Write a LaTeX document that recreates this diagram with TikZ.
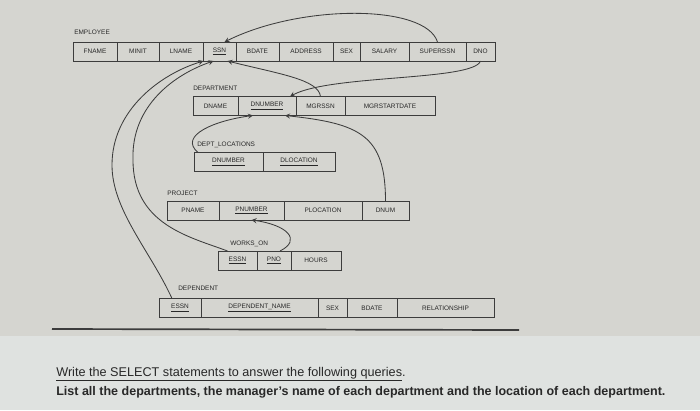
\documentclass[tikz,border=0pt]{standalone}
\usepackage{fontspec}
\setmainfont{Liberation Sans}
\usepackage{tikz}
\usetikzlibrary{arrows,positioning}
\definecolor{paper}{RGB}{213,213,208}
\definecolor{screen}{RGB}{223,226,224}
\definecolor{ink}{RGB}{60,60,60}
\definecolor{txt}{RGB}{40,40,40}

\begin{document}
\begin{tikzpicture}[
    x=0.025cm, y=-0.025cm,
    every node/.style={text=txt},
    cell/.style={draw=ink, line width=0.5pt, outer sep=0pt, inner sep=0pt,
                 minimum height=0.475cm, font=\fontsize{4.6}{5}\selectfont},
    wd/.style={minimum width=#1*0.025cm},
    tname/.style={anchor=base west, inner sep=0pt, font=\fontsize{4.6}{5}\selectfont},
    qtext/.style={anchor=base west, inner sep=0pt, font=\fontsize{9}{11}\selectfont},
    fk/.style={->, >=stealth, line width=0.6pt, draw=ink},
]
    % page
    \fill[paper] (0,0) rectangle (700,410);
    \fill[screen] (0,336) rectangle (700,410);
    \useasboundingbox (0,0) rectangle (700,410);

    % EMPLOYEE
    \node[tname] (emp) at (74,34) {EMPLOYEE};
    \node[cell, wd=44, anchor=west] (fname) at (73,51.5) {FNAME};
    \node[cell, wd=42, right=0pt of fname]  (minit)  {MINIT};
    \node[cell, wd=44, right=0pt of minit]  (lname)  {LNAME};
    \node[cell, wd=33, right=0pt of lname]  (ssn)    {\underline{SSN}};
    \node[cell, wd=43, right=0pt of ssn]    (bdate)  {BDATE};
    \node[cell, wd=54, right=0pt of bdate]  (addr)   {ADDRESS};
    \node[cell, wd=27, right=0pt of addr]   (sex)    {SEX};
    \node[cell, wd=49, right=0pt of sex]    (salary) {SALARY};
    \node[cell, wd=57, right=0pt of salary] (supssn) {SUPERSSN};
    \node[cell, wd=29, right=0pt of supssn] (dno)    {DNO};

    % DEPARTMENT
    \node[tname] (dept) at (193,90.5) {DEPARTMENT};
    \node[cell, wd=45, anchor=west] (dname) at (193,106) {DNAME};
    \node[cell, wd=58, right=0pt of dname]   (dnumber) {\underline{DNUMBER}};
    \node[cell, wd=49, right=0pt of dnumber] (mgrssn)  {MGRSSN};
    \node[cell, wd=90, right=0pt of mgrssn]  (mgrdate) {MGRSTARTDATE};

    % DEPT_LOCATIONS
    \node[tname] (dloc) at (197,146.5) {DEPT\_LOCATIONS};
    \node[cell, wd=69, anchor=west] (dlnum) at (194,162) {\underline{DNUMBER}};
    \node[cell, wd=72, right=0pt of dlnum] (dlloc) {\underline{DLOCATION}};

    % PROJECT
    \node[tname] (proj) at (167,195.5) {PROJECT};
    \node[cell, wd=52, anchor=west] (pname) at (167,210.5) {PNAME};
    \node[cell, wd=65, right=0pt of pname]   (pnumber) {\underline{PNUMBER}};
    \node[cell, wd=78, right=0pt of pnumber] (ploc)    {PLOCATION};
    \node[cell, wd=47, right=0pt of ploc]    (dnum)    {DNUM};

    % WORKS_ON
    \node[tname] (works) at (230,245.5) {WORKS\_ON};
    \node[cell, wd=39, anchor=west] (wessn) at (218,260.5) {\underline{ESSN}};
    \node[cell, wd=34, right=0pt of wessn] (pno)   {\underline{PNO}};
    \node[cell, wd=50, right=0pt of pno]   (hours) {HOURS};

    % DEPENDENT
    \node[tname] (dep) at (178,290.5) {DEPENDENT};
    \node[cell, wd=42, anchor=west] (dessn) at (159,308) {\underline{ESSN}};
    \node[cell, wd=117, right=0pt of dessn] (depname) {\underline{DEPENDENT\_NAME}};
    \node[cell, wd=29, right=0pt of depname] (dsex)   {SEX};
    \node[cell, wd=50, right=0pt of dsex]    (dbdate) {BDATE};
    \node[cell, wd=97, right=0pt of dbdate]  (rel)    {RELATIONSHIP};

    % bends of the two long curves on the left
    \coordinate (wbend) at (133,160);
    \coordinate (dbend) at (112,165);

    % foreign keys
    \draw[fk] (supssn.north) .. controls +(-12,-38) and +(76,-38) .. ([xshift=0.125cm]ssn.north);
    \draw[fk] (dno.south) .. controls +(-7,20) and +(40,-22) .. ([xshift=-0.15cm]dnumber.north east);
    \draw[fk] (mgrssn.north) .. controls +(-2,-17) and +(52,13) .. ([xshift=0.2cm]ssn.south);
    \draw[fk] ([xshift=0.1cm]dlnum.north west) .. controls +(-20,-17) and +(-38,5) .. ([xshift=-0.35cm]dnumber.south);
    \draw[fk] (dnum.north) .. controls +(0,-66) and +(75,8) .. ([xshift=0.45cm]dnumber.south);
    \draw[fk] ([xshift=0.15cm]pno.north) .. controls +(22,-11) and +(36,5) .. (pnumber.south);
    \draw[fk] ([xshift=-0.25cm]wessn.north) .. controls +(-37,-14) and +(0,65) .. (wbend)
              .. controls +(-2,-55) and +(-38,13) .. ([xshift=-0.15cm]ssn.south);
    \draw[fk] ([xshift=-0.2cm]dessn.north) .. controls +(-22,-48) and +(0,45) .. (dbend)
              .. controls +(0,-55) and +(-43,13) .. ([xshift=-0.4cm]ssn.south);

    % rule and question
    \draw[ink, line width=1.2pt] (52,329) -- (519,330);
    \node[qtext] (q1) at (56,376) {\underline{Write the SELECT statements to answer the following queries}.};
    \node[qtext, font=\fontsize{8.9}{10}\bfseries] (q2) at (56,395)
        {List all the departments, the manager's name of each department and the location of each department.};

\end{tikzpicture}
\end{document}
